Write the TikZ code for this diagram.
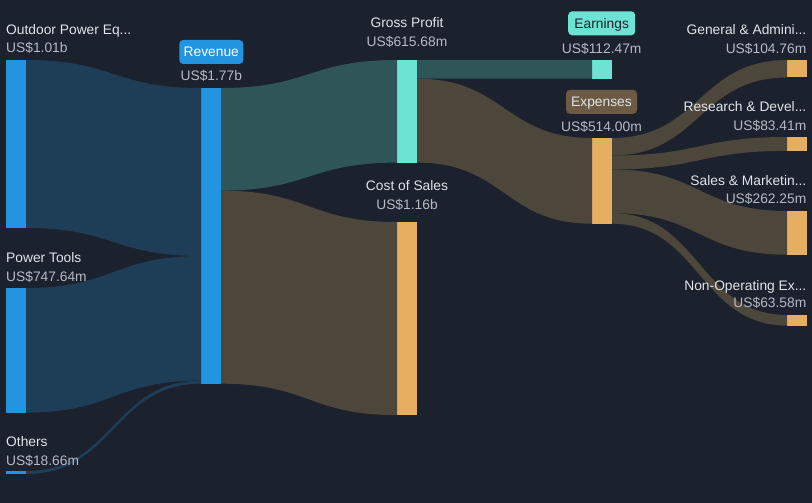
\documentclass[tikz,border=0pt]{standalone}
\usepackage{fontspec}
\setmainfont{Liberation Sans}
\usetikzlibrary{calc}
\definecolor{bg}{HTML}{1B212D}
\definecolor{barblue}{HTML}{2394DF}
\definecolor{barteal}{HTML}{6DE4D3}
\definecolor{barorange}{HTML}{E5AE60}
\definecolor{fblue}{HTML}{1E3D57}
\definecolor{fteal}{HTML}{2E5558}
\definecolor{fbrown}{HTML}{4D463B}
\definecolor{badgebrown}{HTML}{6C5A45}
\definecolor{namecol}{HTML}{E1E4E8}
\definecolor{valcol}{HTML}{B6BBC2}
\newcommand{\flowribbon}[7]{%
  \fill[#7] let \p1=($(#1.north east)+(0,#2)$), \p2=($(#1.north east)+(0,#3)$),
    \p3=($(#4.north west)+(0,#5)$), \p4=($(#4.north west)+(0,#6)$) in
    (\p1) .. controls ({(\x1+\x3)/2},\y1) and ({(\x1+\x3)/2},\y3) .. (\p3)
    -- (\p4) .. controls ({(\x2+\x4)/2},\y4) and ({(\x2+\x4)/2},\y2) .. (\p2) -- cycle;}
\begin{document}
\begin{tikzpicture}[x=1pt,y=-1pt,
  font=\fontsize{13.8}{16}\selectfont,
  bar/.style={anchor=north west, minimum width=20pt, inner sep=0pt, outer sep=0pt, draw=none},
  namelbl/.style={text=namecol, inner sep=0pt},
  vallbl/.style={text=valcol, inner sep=0pt},
  badge/.style={rounded corners=4pt, inner sep=0pt, text height=9.9pt, text depth=0pt, minimum height=24pt}]
\fill[bg] (0,0) rectangle (812,503);
\useasboundingbox (0,0) rectangle (812,503);
% bars
\node[bar, fill=barblue, minimum height=168pt] (outdoor) at (6,60) {};
\node[bar, fill=barblue, minimum height=124.6pt] (power) at (6,288) {};
\node[bar, fill=barblue, minimum height=3.1pt] (others) at (6,471) {};
\node[bar, fill=barblue, minimum height=295.7pt] (rev) at (201,88) {};
\node[bar, fill=barteal, minimum height=102.6pt] (gp) at (397,60) {};
\node[bar, fill=barorange, minimum height=193.1pt] (cos) at (397,222) {};
\node[bar, fill=barteal, minimum height=18.7pt] (earn) at (592,60) {};
\node[bar, fill=barorange, minimum height=85.7pt] (exp) at (592,138) {};
\node[bar, fill=barorange, minimum height=17.5pt] (ga) at (787,60) {};
\node[bar, fill=barorange, minimum height=13.9pt] (rd) at (787,137) {};
\node[bar, fill=barorange, minimum height=43.7pt] (sm) at (787,211) {};
\node[bar, fill=barorange, minimum height=10.6pt] (nonop) at (787,315) {};
% flows
\flowribbon{outdoor}{0}{168}{rev}{0}{168}{fblue}
\flowribbon{power}{0}{124.6}{rev}{168}{292.6}{fblue}
\flowribbon{others}{0}{3.1}{rev}{292.6}{295.7}{fblue}
\flowribbon{rev}{0}{102.6}{gp}{0}{102.6}{fteal}
\flowribbon{rev}{102.6}{295.7}{cos}{0}{193.1}{fbrown}
\flowribbon{gp}{0}{18.7}{earn}{0}{18.7}{fteal}
\flowribbon{gp}{18.7}{102.6}{exp}{0}{85.7}{fbrown}
\flowribbon{exp}{0}{17.5}{ga}{0}{17.5}{fbrown}
\flowribbon{exp}{17.5}{31.4}{rd}{0}{13.9}{fbrown}
\flowribbon{exp}{31.4}{75.1}{sm}{0}{43.7}{fbrown}
\flowribbon{exp}{75.1}{85.7}{nonop}{0}{10.6}{fbrown}
% left labels
\node[namelbl, anchor=base west] (outdoorN) at (6,34.5) {Outdoor Power Eq...};
\node[vallbl, anchor=base west] (outdoorV) at (6,52.5) {US\$1.01b};
\node[namelbl, anchor=base west] (powerN) at (6,262) {Power Tools};
\node[vallbl, anchor=base west] (powerV) at (6,281) {US\$747.64m};
\node[namelbl, anchor=base west] (othersN) at (6,446) {Others};
\node[vallbl, anchor=base west] (othersV) at (6,465) {US\$18.66m};
% revenue
\node[badge, fill=barblue, text=white, minimum width=64pt] (revB) at (211.3,52) {Revenue};
\node[vallbl, anchor=base] (revV) at (211.3,81) {US\$1.77b};
% gross profit / cost of sales
\node[namelbl, anchor=base] (gpN) at (407,27.7) {Gross Profit};
\node[vallbl, anchor=base] (gpV) at (407,46.7) {US\$615.68m};
\node[namelbl, anchor=base] (cosN) at (407,190) {Cost of Sales};
\node[vallbl, anchor=base] (cosV) at (407,209) {US\$1.16b};
% earnings / expenses
\node[badge, fill=barteal, text=bg, minimum width=67pt] (earnB) at (601.7,23.3) {Earnings};
\node[vallbl, anchor=base] (earnV) at (601.7,53.3) {US\$112.47m};
\node[badge, fill=badgebrown, text=namecol, minimum width=71pt] (expB) at (601.5,101.8) {Expenses};
\node[vallbl, anchor=base] (expV) at (601.5,131.7) {US\$514.00m};
% right labels
\node[namelbl, anchor=base east] (gaN) at (806.5,34.3) {General \& Admini...};
\node[vallbl, anchor=base east] (gaV) at (806.5,53.3) {US\$104.76m};
\node[namelbl, anchor=base east] (rdN) at (806.5,111) {Research \& Devel...};
\node[vallbl, anchor=base east] (rdV) at (806.5,130) {US\$83.41m};
\node[namelbl, anchor=base east] (smN) at (806.5,185.7) {Sales \& Marketin...};
\node[vallbl, anchor=base east] (smV) at (806.5,203.3) {US\$262.25m};
\node[namelbl, anchor=base east] (nonopN) at (806.5,290) {Non-Operating Ex...};
\node[vallbl, anchor=base east] (nonopV) at (806.5,307.7) {US\$63.58m};
\end{tikzpicture}
\end{document}
